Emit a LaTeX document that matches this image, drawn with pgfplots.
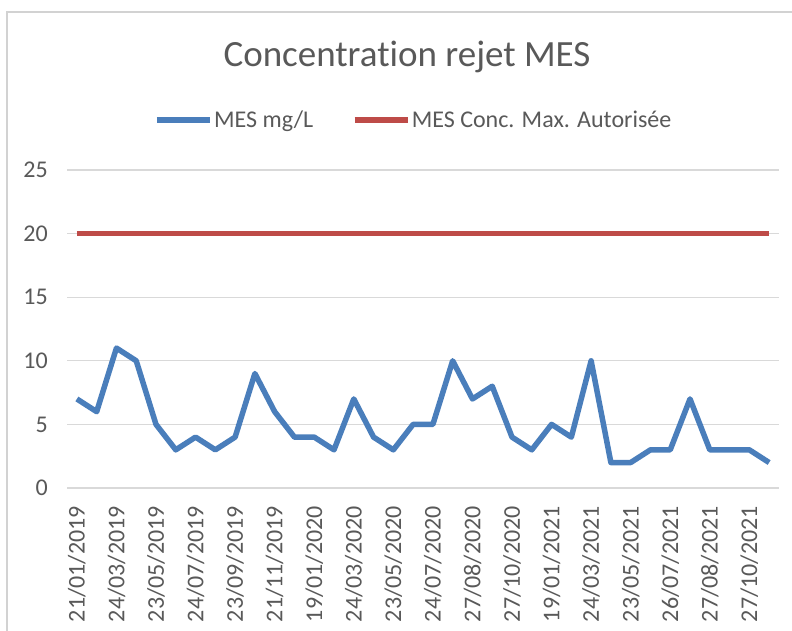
\documentclass[border=0pt]{standalone}
\usepackage{pgfplots}
\pgfplotsset{compat=1.18}
\usepackage{fontspec}
\setmainfont{Carlito}[Ligatures=NoCommon]
\definecolor{mesblue}{HTML}{4A7EBB}
\definecolor{mesred}{HTML}{BE4B48}
\definecolor{txtgray}{HTML}{595959}
\definecolor{gridgray}{HTML}{D9D9D9}
\begin{document}
\begin{tikzpicture}[x=1bp,y=1bp]
\useasboundingbox (0,0) rectangle (792,631);
\fill[white] (0,0) rectangle (792,631);
\draw[gray!35, line width=1.5bp] (7,-5) -- (7,619) -- (800,619);
\node[text=txtgray, font=\fontsize{37bp}{44bp}\selectfont, anchor=base, inner sep=0pt] at (407,564) {Concentration rejet MES};
\begin{axis}[
  at={(67bp,143bp)}, anchor=south west,
  scale only axis, width=712bp, height=318bp,
  xmin=-0.5, xmax=35.5, ymin=0, ymax=25,
  axis line style={draw=none},
  major tick length=0pt,
  ytick={0,5,...,25},
  ymajorgrids, grid style={gridgray, line width=1.3bp},
  xtick={0,2,...,34},
  xticklabels={21/01/2019,24/03/2019,23/05/2019,24/07/2019,23/09/2019,21/11/2019,19/01/2020,24/03/2020,23/05/2020,24/07/2020,27/08/2020,27/10/2020,19/01/2021,24/03/2021,23/05/2021,26/07/2021,27/08/2021,27/10/2021},
  tick label style={font=\fontsize{24bp}{28bp}\selectfont, text=txtgray, inner sep=0pt},
  /pgf/number format/assume math mode=true,
  x tick label style={rotate=90, anchor=east},
  y tick label style={anchor=east},
  xticklabel shift=18bp,
  yticklabel shift=19bp,
  legend columns=2,
  legend style={at={(axis description cs:0.1222,1.157)}, anchor=west, draw=none, fill=none,
    font=\fontsize{24bp}{28bp}\selectfont, text=txtgray, inner sep=0pt,
    nodes={inner sep=1.5bp},
    /tikz/every even column/.append style={column sep=37bp}},
  legend image code/.code={\draw[#1] (0bp,0bp) -- (53bp,0bp);},
]
\addplot[mesblue, line width=5.5bp, line join=round] coordinates {
(0,7) (1,6) (2,11) (3,10) (4,5) (5,3) (6,4) (7,3) (8,4) (9,9)
(10,6) (11,4) (12,4) (13,3) (14,7) (15,4) (16,3) (17,5) (18,5) (19,10)
(20,7) (21,8) (22,4) (23,3) (24,5) (25,4) (26,10) (27,2) (28,2) (29,3)
(30,3) (31,7) (32,3) (33,3) (34,3) (35,2)};
\addlegendentry{MES mg/L}
\addplot[mesred, line width=5.5bp] coordinates {
(0,20) (1,20) (2,20) (3,20) (4,20) (5,20) (6,20) (7,20) (8,20) (9,20)
(10,20) (11,20) (12,20) (13,20) (14,20) (15,20) (16,20) (17,20) (18,20) (19,20)
(20,20) (21,20) (22,20) (23,20) (24,20) (25,20) (26,20) (27,20) (28,20) (29,20)
(30,20) (31,20) (32,20) (33,20) (34,20) (35,20)};
\addlegendentry{MES Conc. Max. Autorisée}
\end{axis}
\end{tikzpicture}
\end{document}
